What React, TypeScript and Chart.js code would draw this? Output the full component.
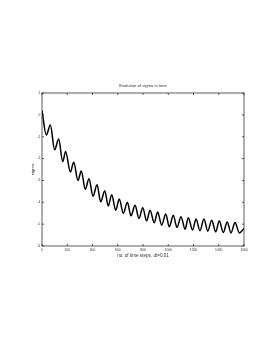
import React, { useEffect, useRef } from "react";
import { Chart, registerables } from "chart.js";

Chart.register(...registerables);

const titleText = "Evolution of sigma in time";
const xLabelText = "no. of time steps, dt=0.01";
const yLabelText = "sigma";

const xTicks = [0, 200, 400, 600, 800, 1000, 1200, 1400, 1600];
const yTicks = [1, 0, -1, -2, -3, -4, -5, -6];

// alternating extremes of the oscillating curve
const steps = [
  0, 34, 66, 100, 132, 164, 187, 225, 251, 285, 311, 343, 372, 404, 436, 465,
  497, 525, 552, 584, 612, 644, 676, 705, 737, 768, 798, 829, 856, 889, 916,
  948, 980, 1008, 1040, 1069, 1101, 1133, 1159, 1192, 1220, 1251, 1283, 1313,
  1344, 1376, 1404, 1436, 1467, 1497, 1529, 1563, 1600,
];
const sigma = [
  0.2, -0.92, -0.46, -1.6, -1.11, -2.14, -1.68, -2.62, -2.17, -3.0, -2.57,
  -3.41, -2.92, -3.72, -3.2, -3.98, -3.47, -4.17, -3.66, -4.36, -3.85, -4.51,
  -4.0, -4.62, -4.13, -4.74, -4.25, -4.85, -4.36, -4.94, -4.45, -5.05, -4.54,
  -5.12, -4.59, -5.15, -4.66, -5.23, -4.71, -5.27, -4.77, -5.3, -4.77, -5.32,
  -4.82, -5.35, -4.85, -5.38, -4.9, -5.4, -4.92, -5.4, -5.2,
];

const W = 277;
const H = 346;
const AXIS_COLOR = "#333";
const TEXT_COLOR = "#333";
const FONT = "'Liberation Sans', Arial, sans-serif";

const boxPlugin = {
  id: "matlabBox",
  afterDraw(chart: any) {
    const { ctx, chartArea } = chart;
    const { left, right, top, bottom } = chartArea;
    const xs = chart.scales.x;
    const ys = chart.scales.y;
    ctx.save();
    ctx.strokeStyle = AXIS_COLOR;
    ctx.lineWidth = 0.8;
    ctx.strokeRect(left, top, right - left, bottom - top);
    const tl = 2;
    ctx.beginPath();
    xTicks.forEach((v) => {
      const px = xs.getPixelForValue(v);
      ctx.moveTo(px, bottom);
      ctx.lineTo(px, bottom - tl);
      ctx.moveTo(px, top);
      ctx.lineTo(px, top + tl);
    });
    yTicks.forEach((v) => {
      const py = ys.getPixelForValue(v);
      ctx.moveTo(left, py);
      ctx.lineTo(left + tl, py);
      ctx.moveTo(right, py);
      ctx.lineTo(right - tl, py);
    });
    ctx.stroke();

    ctx.fillStyle = TEXT_COLOR;
    ctx.textAlign = "center";
    ctx.textBaseline = "middle";
    ctx.font = `4.2px ${FONT}`;
    ctx.fillText(titleText, (left + right) / 2, 86);
    ctx.font = `4.6px ${FONT}`;
    ctx.fillText(xLabelText, (left + right) / 2, 256);
    ctx.translate(32.7, (top + bottom) / 2);
    ctx.rotate(-Math.PI / 2);
    ctx.font = `4.4px ${FONT}`;
    ctx.fillText(yLabelText, 0, 0);
    ctx.restore();
  },
};

export default function App() {
  const ref = useRef<HTMLCanvasElement | null>(null);
  useEffect(() => {
    if (!ref.current) return;
    const chart = new Chart(ref.current, {
      type: "line",
      data: {
        datasets: [
          {
            data: steps.map((s, i) => ({ x: s, y: sigma[i] })),
            borderColor: "#000",
            borderWidth: 1.5,
            pointRadius: 0,
            cubicInterpolationMode: "monotone",
            fill: false,
          },
        ],
      },
      options: {
        responsive: false,
        animation: false,
        devicePixelRatio: 1,
        layout: { padding: { left: 0, right: 33, top: 93, bottom: 0 } },
        plugins: {
          legend: { display: false },
          tooltip: { enabled: false },
          title: { display: false },
        },
        scales: {
          x: {
            type: "linear",
            min: 0,
            max: 1600,
            afterFit: (s: any) => {
              s.height = 100;
            },
            afterBuildTicks: (s: any) => {
              s.ticks = xTicks.map((v) => ({ value: v }));
            },
            grid: { display: false, drawTicks: false },
            border: { display: false },
            ticks: {
              color: TEXT_COLOR,
              font: { size: 3.3, family: FONT },
              padding: 2.6,
              maxRotation: 0,
              autoSkip: false,
              callback: (v: any) => String(v),
            },
          },
          y: {
            type: "linear",
            min: -6,
            max: 1,
            afterFit: (s: any) => {
              s.width = 42;
            },
            afterBuildTicks: (s: any) => {
              s.ticks = yTicks.map((v) => ({ value: v }));
            },
            grid: { display: false, drawTicks: false },
            border: { display: false },
            ticks: {
              color: TEXT_COLOR,
              font: { size: 3.3, family: FONT },
              padding: 1.6,
              autoSkip: false,
              callback: (v: any) => String(v),
            },
          },
        },
      },
      plugins: [boxPlugin],
    } as any);
    return () => chart.destroy();
  }, []);
  return (
    <div style={{ position: "absolute", left: 0, top: 0, width: W, height: H, background: "#fff" }}>
      <canvas ref={ref} width={W} height={H} style={{ width: W, height: H, display: "block" }} />
    </div>
  );
}
